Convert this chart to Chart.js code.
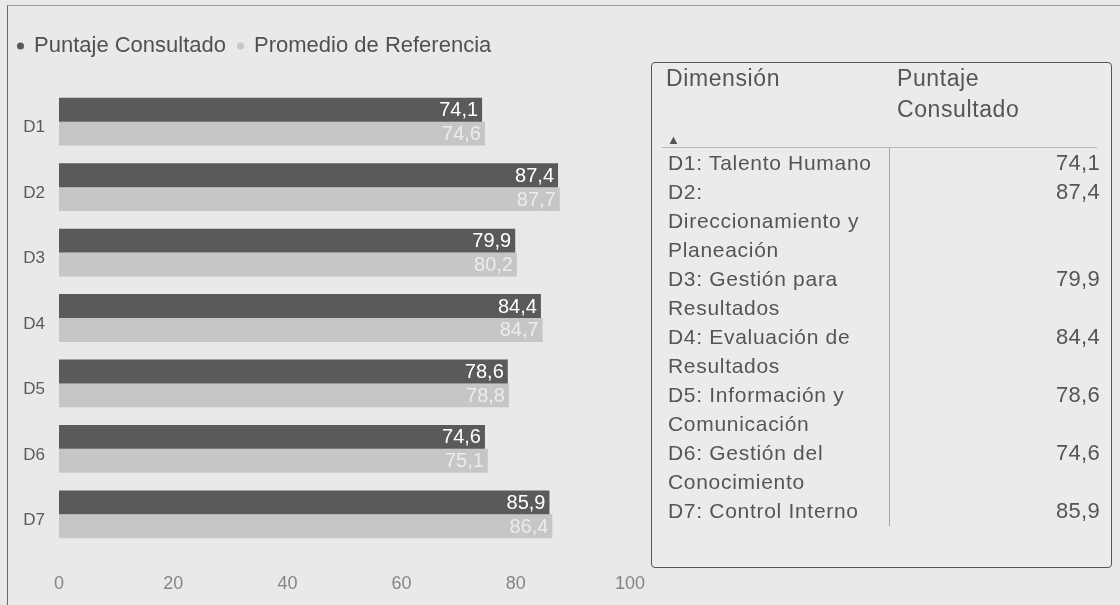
<!DOCTYPE html>
<html>
<head>
<meta charset="utf-8">
<script src="https://cdn.jsdelivr.net/npm/chart.js@4"></script>
<style>
  html, body { margin: 0; padding: 0; }
  body { width: 1120px; height: 605px; background: #e9e9e7; position: relative; overflow: hidden;
         font-family: "Liberation Sans", Arial, sans-serif; color: #555; }
  #frame { position: absolute; left: 7px; top: 5px; width: 1200px; height: 700px;
           border-left: 1px solid #6a6a6a; border-top: 1px solid #9a9a9a; }
  #chart { position: absolute; left: 0; top: 0; }
  #tabla { position: absolute; left: 651px; top: 62px; width: 459px; height: 504px;
           border: 1px solid #555; border-radius: 4px; background: #ebebe9; }
  .hdr { position: absolute; top: 0; font-size: 23px; line-height: 31px; letter-spacing: 0.6px; }
  #flecha { position: absolute; left: 15px; top: 70px; font-size: 13px; line-height: 13px; color: #555; }
  #linea { position: absolute; left: 10px; right: 14px; top: 84px; border-top: 1px solid #b8b8b6; }
  #divisor { position: absolute; left: 237px; top: 85px; height: 378px; border-left: 1px solid #a5a5a3; }
  #filas { position: absolute; left: 16px; right: 11px; top: 85px; }
  .fila { display: flex; justify-content: space-between; }
  .nom { font-size: 21px; line-height: 29px; letter-spacing: 0.7px; white-space: nowrap; }
  .val { font-size: 22px; line-height: 29px; letter-spacing: 0.3px; }
</style>
</head>
<body>
<div id="frame"></div>
<canvas id="chart" width="671" height="605"></canvas>
<div id="tabla">
  <div class="hdr" id="hdrDim" style="left:14px;"></div>
  <div class="hdr" id="hdrVal" style="left:245px;"></div>
  <div id="flecha">&#9650;</div>
  <div id="linea"></div>
  <div id="divisor"></div>
  <div id="filas"></div>
</div>
<script>
// datos del gráfico
const categorias = ['D1', 'D2', 'D3', 'D4', 'D5', 'D6', 'D7'];
const puntajeConsultado = [74.1, 87.4, 79.9, 84.4, 78.6, 74.6, 85.9];
const promedioReferencia = [74.6, 87.7, 80.2, 84.7, 78.8, 75.1, 86.4];
const ticksX = [0, 20, 40, 60, 80, 100];
const nombresSeries = ['Puntaje Consultado', 'Promedio de Referencia'];

// datos de la tabla (cada nombre partido en sus renglones)
const encabezados = [['Dimensión'], ['Puntaje', 'Consultado']];
const nombresDimension = [
  ['D1: Talento Humano'],
  ['D2:', 'Direccionamiento y', 'Planeación'],
  ['D3: Gestión para', 'Resultados'],
  ['D4: Evaluación de', 'Resultados'],
  ['D5: Información y', 'Comunicación'],
  ['D6: Gestión del', 'Conocimiento'],
  ['D7: Control Interno']
];

const fuente = '"Liberation Sans", Arial, sans-serif';
const fmt = v => v.toFixed(1).replace('.', ',');

// tabla
document.getElementById('hdrDim').innerHTML = encabezados[0].join('<br>');
document.getElementById('hdrVal').innerHTML = encabezados[1].join('<br>');
const filas = document.getElementById('filas');
nombresDimension.forEach((lineas, i) => {
  const f = document.createElement('div');
  f.className = 'fila';
  f.innerHTML = '<div class="nom">' + lineas.join('<br>') + '</div><div class="val">' + fmt(puntajeConsultado[i]) + '</div>';
  filas.appendChild(f);
});

// alto fijo para la leyenda
const altoLeyenda = {
  id: 'altoLeyenda',
  beforeInit(chart) {
    const fit = chart.legend.fit;
    chart.legend.fit = function () {
      fit.call(this);
      this.height = 66;
    };
  }
};

// etiquetas de valor dentro de las barras
const coloresEtiqueta = ['#ffffff', '#ececec'];
const etiquetasValor = {
  id: 'etiquetasValor',
  afterDatasetsDraw(chart) {
    const ctx = chart.ctx;
    ctx.save();
    ctx.font = '20px ' + fuente;
    ctx.textAlign = 'right';
    ctx.textBaseline = 'middle';
    chart.data.datasets.forEach((ds, i) => {
      ctx.fillStyle = coloresEtiqueta[i];
      chart.getDatasetMeta(i).data.forEach((bar, j) => {
        ctx.fillText(fmt(ds.data[j]), bar.x - 4, bar.y + 1);
      });
    });
    ctx.restore();
  }
};

new Chart(document.getElementById('chart'), {
  type: 'bar',
  data: {
    labels: categorias,
    datasets: [
      { label: nombresSeries[0], data: puntajeConsultado, backgroundColor: '#5a5a5a' },
      { label: nombresSeries[1], data: promedioReferencia, backgroundColor: '#c6c6c4' }
    ]
  },
  options: {
    indexAxis: 'y',
    responsive: false,
    animation: false,
    devicePixelRatio: 1,
    layout: { padding: { left: 6, top: 23, right: 1, bottom: 0 } },
    datasets: { bar: { categoryPercentage: 0.73, barPercentage: 1 } },
    scales: {
      x: {
        min: 0, max: 100,
        afterBuildTicks: s => { s.ticks = ticksX.map(v => ({ value: v })); },
        afterFit: s => { s.height = 58; },
        ticks: { padding: 26, color: '#858585', font: { family: fuente, size: 18 } },
        grid: { display: false, drawTicks: false },
        border: { display: false }
      },
      y: {
        afterFit: s => { s.width = 53; },
        ticks: { padding: 14, labelOffset: 6, color: '#5a5a5a', font: { family: fuente, size: 17 } },
        grid: { display: false, drawTicks: false },
        border: { display: false }
      }
    },
    plugins: {
      legend: {
        align: 'start',
        labels: {
          usePointStyle: true, pointStyle: 'circle', boxWidth: 5, boxHeight: 5,
          padding: 12, color: '#505050', font: { family: fuente, size: 22 }
        }
      },
      tooltip: { enabled: false }
    }
  },
  plugins: [altoLeyenda, etiquetasValor]
});
</script>
</body>
</html>
